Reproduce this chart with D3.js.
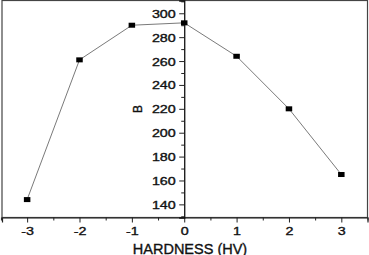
<!DOCTYPE html>
<html>
<head>
<meta charset="utf-8">
<script src="https://cdn.jsdelivr.net/npm/d3@7"></script>
<style>
  html, body { margin: 0; padding: 0; background: #fff; }
  svg { display: block; }
  text { font-family: "Liberation Sans", Arial, sans-serif; fill: #111; }
</style>
</head>
<body>
<svg id="chart" width="369" height="255"></svg>
<script>
// ---- data ----
const hardness = [-3, -2, -1, 0, 1, 2, 3];
const bValues = [144, 261, 290, 292, 264, 220, 165];
const xTickValues = [-3, -2, -1, 0, 1, 2, 3];
const yTickValues = [140, 160, 180, 200, 220, 240, 260, 280, 300];
const xLabel = "HARDNESS (HV)";
const yLabel = "B";

// ---- layout ----
const svg = d3.select("#chart");
const box = { left: 2, right: 367.5, top: 0.5, bottom: 217.5 };
const stretch = 1.3;
const fmt = d => String(d); // plain hyphen-minus like the original

const x = d3.scaleLinear().domain([-3.48, 3.5]).range([box.left, box.right]);
const y = d3.scaleLinear().domain([129, 310.7]).range([box.bottom, box.top]);

// frame
svg.append("rect")
  .attr("x", box.left).attr("y", box.top)
  .attr("width", box.right - box.left).attr("height", box.bottom - box.top)
  .attr("fill", "none").attr("stroke", "#444").attr("stroke-width", 1.2);

// x axis (bottom)
const xMinor = d3.range(-3.5, 3.51, 0.5).filter(v => !xTickValues.includes(v));
const gxMinor = svg.append("g").attr("transform", `translate(0,${box.bottom})`)
  .call(d3.axisBottom(x).tickValues(xMinor).tickSize(3).tickFormat(""));
gxMinor.select(".domain").remove();

const gx = svg.append("g").attr("transform", `translate(0,${box.bottom})`)
  .call(d3.axisBottom(x).tickValues(xTickValues).tickSize(5).tickPadding(6)
        .tickFormat(fmt));
gx.select(".domain").attr("stroke", "#222").attr("stroke-width", 1.2);
gx.selectAll("text")
  .attr("font-size", 11)
  .attr("dy", "0.71em")
  .attr("y", 10)
  .attr("stroke", "#111").attr("stroke-width", 0.35)
  .attr("transform", `scale(${stretch},1)`);

// y axis at x = 0
const yMinor = d3.range(130, 311, 10).filter(v => !yTickValues.includes(v));
const gyMinor = svg.append("g").attr("transform", `translate(${x(0)},0)`)
  .call(d3.axisLeft(y).tickValues(yMinor).tickSize(3).tickFormat(""));
gyMinor.select(".domain").remove();

const gy = svg.append("g").attr("transform", `translate(${x(0)},0)`)
  .call(d3.axisLeft(y).tickValues(yTickValues).tickSize(5).tickPadding(3.5)
        .tickFormat(fmt));
gy.select(".domain").attr("stroke", "#111").attr("stroke-width", 1.3);
gy.selectAll("text")
  .attr("font-size", 11)
  .attr("x", -8.5 / stretch)
  .attr("dy", "0.36em")
  .attr("stroke", "#111").attr("stroke-width", 0.35)
  .attr("transform", `scale(${stretch},1)`);

[gx, gy, gxMinor, gyMinor].forEach(g => g.selectAll(".tick line").attr("stroke", "#222"));

// line
const pts = hardness.map((h, i) => ({ h, b: bValues[i] }));
svg.append("path")
  .datum(pts)
  .attr("fill", "none")
  .attr("stroke", "#7a7a7a")
  .attr("stroke-width", 1)
  .attr("d", d3.line().x(d => x(d.h)).y(d => y(d.b)));

// markers
const mw = 6.5, mh = 5;
svg.append("g").selectAll("rect")
  .data(pts).join("rect")
  .attr("x", d => x(d.h) - mw / 2)
  .attr("y", d => y(d.b) - mh / 2)
  .attr("width", mw).attr("height", mh)
  .attr("fill", "#000");

// axis titles
svg.append("text")
  .attr("x", 190).attr("y", 253.5)
  .attr("text-anchor", "middle")
  .attr("font-size", 14.5)
  .attr("stroke", "#111").attr("stroke-width", 0.35)
  .text(xLabel);

svg.append("text")
  .attr("transform", "translate(142,109) rotate(-90)")
  .attr("text-anchor", "middle")
  .attr("font-size", 12)
  .attr("stroke", "#111").attr("stroke-width", 0.35)
  .text(yLabel);
</script>
</body>
</html>
